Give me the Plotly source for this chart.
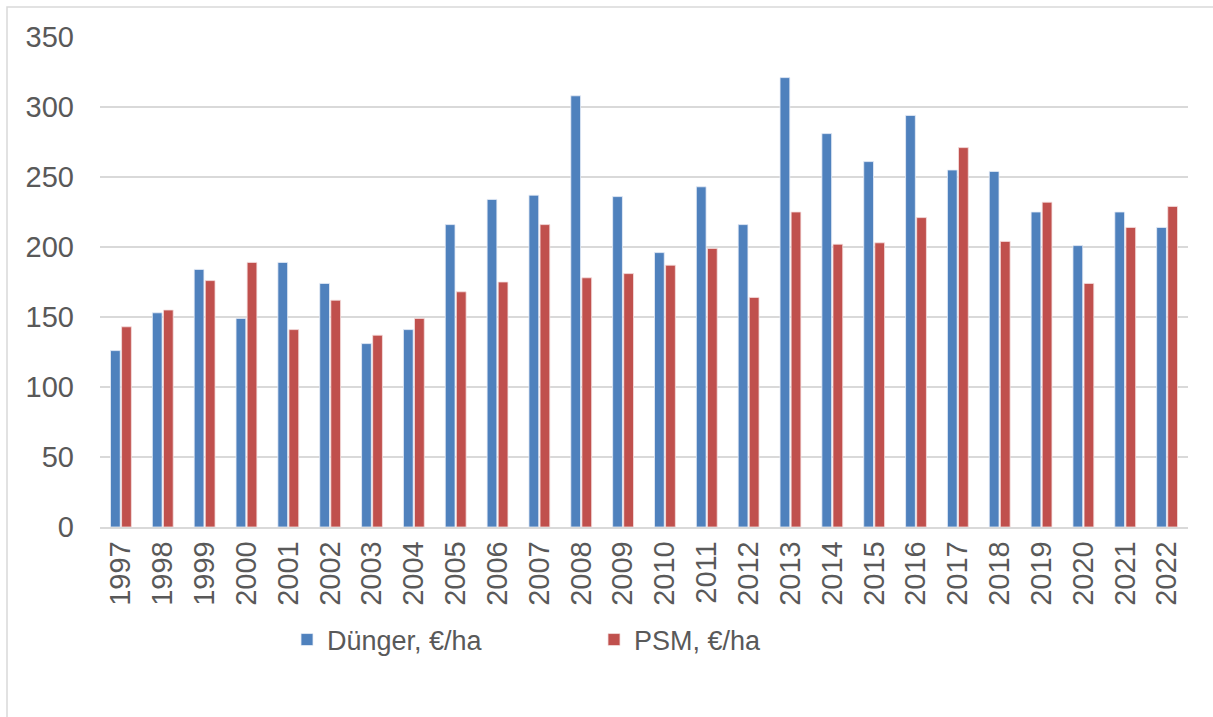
import plotly.graph_objects as go

years = [str(y) for y in range(1997, 2023)]
duenger = [126, 153, 184, 149, 189, 174, 131, 141, 216, 234, 237, 308, 236, 196, 243, 216,
           321, 281, 261, 294, 255, 254, 225, 201, 225, 214]
psm = [143, 155, 176, 189, 141, 162, 137, 149, 168, 175, 216, 178, 181, 187, 199, 164,
       225, 202, 203, 221, 271, 204, 232, 174, 214, 229]
y_ticks = [0, 50, 100, 150, 200, 250, 300, 350]

W, H = 1213, 717
L, R, T, B = 100, 25, 37, 190
pw, ph = W - L - R, H - T - B

fig = go.Figure()
fig.add_trace(go.Bar(x=years, y=duenger, name="Dünger, €/ha",
                     marker=dict(color="#4F81BD", line=dict(color="#E8EEF7", width=0.8))))
fig.add_trace(go.Bar(x=years, y=psm, name="PSM, €/ha",
                     marker=dict(color="#C0504D", line=dict(color="#F5E0E0", width=0.8))))

font_fam = "Liberation Sans, Arial, sans-serif"
fig.update_layout(
    width=W, height=H,
    margin=dict(l=L, r=R, t=T, b=B, autoexpand=False),
    paper_bgcolor="white", plot_bgcolor="white",
    barmode="group", bargap=0.47, bargroupgap=0.12,
    font=dict(family=font_fam, color="#595959", size=27),
    legend=dict(orientation="h", x=(287 - L) / pw, xanchor="left",
                y=(T + ph - 640) / ph, yanchor="middle",
                font=dict(size=27, color="#595959"),
                entrywidth=262, entrywidthmode="pixels",
                itemwidth=30, traceorder="normal"),
    xaxis=dict(type="category", tickangle=-90, showgrid=False,
               showline=True, linecolor="#D9D9D9", linewidth=1.5,
               ticks="", ticklabelstandoff=1,
               tickfont=dict(size=29, color="#595959")),
    yaxis=dict(range=[0, 350], tickvals=y_ticks, showgrid=True,
               gridcolor="#D9D9D9", gridwidth=1.5, zeroline=False,
               showline=False, ticks="", ticklabelstandoff=25,
               tickfont=dict(size=29, color="#595959")),
    shapes=[dict(type="rect", xref="paper", yref="paper",
                 x0=(7 - L) / pw, x1=(W + 10 - L) / pw,
                 y0=(T + ph - (H + 10)) / ph, y1=(T + ph - 7) / ph,
                 line=dict(color="#D9D9D9", width=1.5), layer="below")],
)

fig.write_html("out.html", config={"displayModeBar": False},
               post_script="document.body.style.margin='0';")
